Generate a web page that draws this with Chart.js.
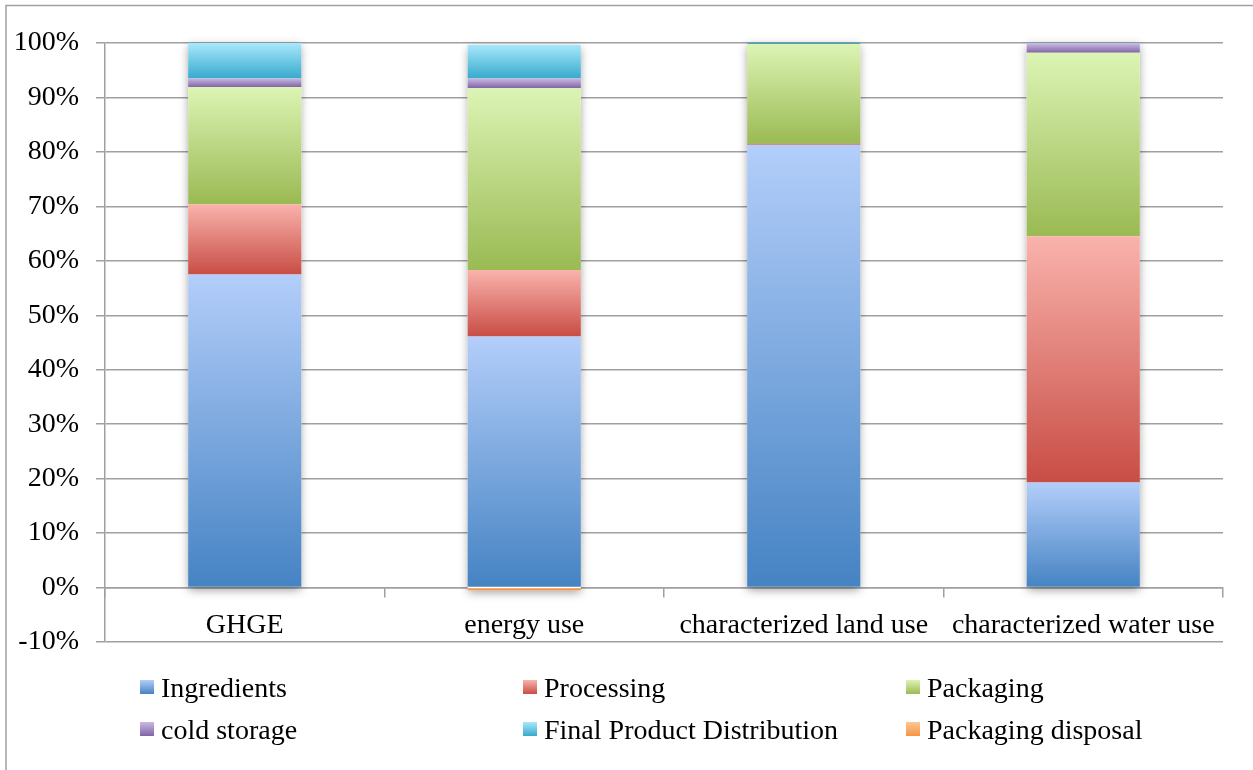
<!DOCTYPE html>
<html>
<head>
<meta charset="utf-8">
<script src="https://cdn.jsdelivr.net/npm/chart.js@4.4.1/dist/chart.umd.min.js"></script>
<style>
  html, body { margin: 0; padding: 0; background: #ffffff; }
  #wrap { position: relative; width: 1253px; height: 770px; }
  canvas { display: block; }
</style>
</head>
<body>
<div id="wrap"><canvas id="c" width="1253" height="770"></canvas></div>
<script>
// ---- data ----
const categories = ['GHGE', 'energy use', 'characterized land use', 'characterized water use'];
const seriesNames = ['Ingredients', 'Processing', 'Packaging', 'cold storage', 'Final Product Distribution', 'Packaging disposal'];
const ingredients  = [57.5, 46.1, 81.3, 19.3];
const processing   = [12.9, 12.2, 0.2, 45.2];
const packaging    = [21.5, 33.4, 18.3, 33.7];
const coldStorage  = [1.6, 1.8, 0, 1.7];
const distribution = [6.5, 6.2, 0.2, 0.1];
const disposal     = [0, -0.5, 0, 0];
const yTickValues  = [-10, 0, 10, 20, 30, 40, 50, 60, 70, 80, 90, 100];

const seriesData = [ingredients, processing, packaging, coldStorage, distribution, disposal];
// [top(light), bottom(dark)]
const seriesColors = [
  ['#b3cefa', '#4583c3'],
  ['#f9b3ac', '#c84d45'],
  ['#dcf4b4', '#9aba53'],
  ['#cab9e2', '#8064a6'],
  ['#a8e8fc', '#37aacd'],
  ['#fdc796', '#f79442']
];

const FONT = '"Liberation Serif", "Times New Roman", serif';

function segGradient(i) {
  return (ctx) => {
    const chart = ctx.chart;
    const colors = seriesColors[i];
    if (!chart.chartArea || ctx.type !== 'data') return colors[1];
    const j = ctx.dataIndex;
    const v = seriesData[i][j];
    let base = 0;
    for (let k = 0; k < i; k++) {
      const w = seriesData[k][j];
      if ((w >= 0) === (v >= 0)) base += w;
    }
    const ys = chart.scales.y;
    const a = ys.getPixelForValue(base);
    const b = ys.getPixelForValue(base + v);
    const top = Math.min(a, b), bot = Math.max(a, b);
    if (!(bot - top > 3)) return colors[1];
    const g = chart.ctx.createLinearGradient(0, top, 0, bot);
    g.addColorStop(0, colors[0]);
    g.addColorStop(1, colors[1]);
    return g;
  };
}

const datasets = seriesNames.map((name, i) => ({
  label: name,
  data: seriesData[i],
  backgroundColor: segGradient(i),
  borderWidth: 0,
  categoryPercentage: 1.0,
  barPercentage: 0.405
}));

const GRID = '#a0a0a0';

// drop shadow behind each stacked bar
const shadowPlugin = {
  id: 'barShadow',
  beforeDatasetsDraw(chart) {
    const ctx = chart.ctx;
    const n = categories.length;
    for (let j = 0; j < n; j++) {
      let top = Infinity, bot = -Infinity, x = null, w = null;
      chart.data.datasets.forEach((ds, i) => {
        const el = chart.getDatasetMeta(i).data[j];
        if (!el) return;
        const p = el.getProps(['x', 'y', 'base', 'width'], true);
        if (Math.abs(p.base - p.y) < 0.01) return;
        top = Math.min(top, p.y, p.base);
        bot = Math.max(bot, p.y, p.base);
        x = p.x; w = p.width;
      });
      if (x === null) continue;
      ctx.save();
      ctx.shadowColor = 'rgba(0,0,0,0.38)';
      ctx.shadowBlur = 9;
      ctx.shadowOffsetX = 0;
      ctx.shadowOffsetY = 3;
      ctx.fillStyle = '#ffffff';
      ctx.fillRect(x - w / 2, top, w, bot - top);
      ctx.restore();
    }
  }
};

// frame + legend in a fixed 3-column grid
const legendPlugin = {
  id: 'gridLegend',
  afterDraw(chart) {
    const ctx = chart.ctx;
    ctx.save();
    // outer frame (top and left edges visible)
    ctx.strokeStyle = '#a0a0a0';
    ctx.lineWidth = 1.5;
    ctx.beginPath();
    ctx.moveTo(6, 770);
    ctx.lineTo(6, 5.5);
    ctx.lineTo(1253, 5.5);
    ctx.stroke();

    const colX = [140, 523, 906];
    const rowBase = [697, 739];
    ctx.font = '28px ' + FONT;
    ctx.textBaseline = 'alphabetic';
    ctx.textAlign = 'left';
    seriesNames.forEach((name, i) => {
      const cx = colX[i % 3];
      const by = rowBase[Math.floor(i / 3)];
      const sy = by - 17;
      const g = ctx.createLinearGradient(0, sy, 0, sy + 14);
      g.addColorStop(0, seriesColors[i][0]);
      g.addColorStop(1, seriesColors[i][1]);
      ctx.fillStyle = g;
      ctx.fillRect(cx, sy, 14, 14);
      ctx.fillStyle = '#000000';
      ctx.fillText(name, cx + 21, by);
    });
    ctx.restore();
  }
};

new Chart(document.getElementById('c'), {
  type: 'bar',
  data: { labels: categories, datasets },
  plugins: [shadowPlugin, legendPlugin],
  options: {
    responsive: false,
    animation: false,
    events: [],
    layout: { padding: { top: 43, right: 30, bottom: 128, left: 0 } },
    plugins: {
      legend: { display: false },
      tooltip: { enabled: false },
      title: { display: false }
    },
    scales: {
      x: {
        stacked: true,
        position: { y: 0 },
        grid: {
          offset: true,
          drawOnChartArea: false,
          drawTicks: true,
          tickLength: 9,
          color: GRID,
          lineWidth: 1.5
        },
        border: { display: true, color: GRID, width: 1.5 },
        ticks: {
          color: '#000000',
          font: { family: FONT, size: 28 },
          padding: 12,
          maxRotation: 0,
          autoSkip: false
        }
      },
      y: {
        stacked: true,
        min: -10,
        max: 100,
        afterFit(scale) { scale.width = 105; },
        afterBuildTicks(scale) { scale.ticks = yTickValues.map(v => ({ value: v })); },
        grid: {
          color: GRID,
          lineWidth: 1.5,
          drawTicks: true,
          tickLength: 9
        },
        border: { display: true, color: GRID, width: 1.5 },
        ticks: {
          color: '#000000',
          font: { family: FONT, size: 28 },
          padding: 17,
          callback: (v) => v + '%'
        }
      }
    }
  }
});
</script>
</body>
</html>
